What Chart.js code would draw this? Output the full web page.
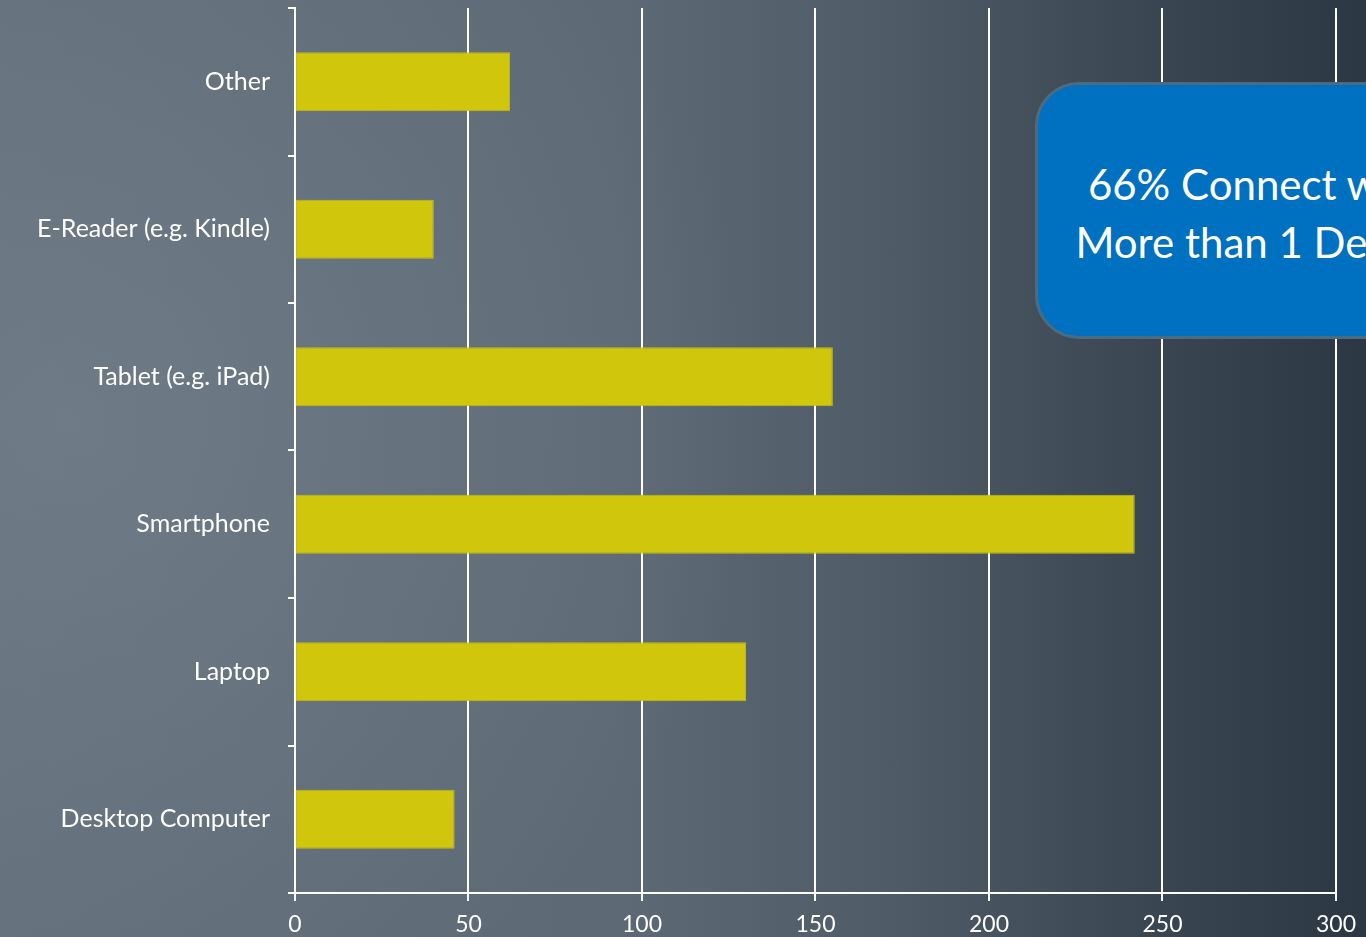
<!DOCTYPE html>
<html>
<head>
<meta charset="utf-8">
<script src="https://cdn.jsdelivr.net/npm/chart.js@4/dist/chart.umd.min.js"></script>
<style>
  html, body { margin: 0; padding: 0; width: 1366px; height: 937px; overflow: hidden; }
  body {
    background:
      radial-gradient(ellipse 700px 650px at 5% 45%, rgba(120,132,143,0.55) 0%, rgba(120,132,143,0) 100%),
      linear-gradient(to right, #63707b 0%, #5d6974 45%, #4f5b67 65%, #3d4855 82%, #2c3744 100%);
    position: relative;
    font-family: Lato, "DejaVu Sans", sans-serif;
  }
  #wrap { position: absolute; left: 0; top: 0; width: 1366px; height: 937px; }
  #callout {
    position: absolute; left: 1035px; top: 82px; width: 440px; height: 251px;
    background: #0070c0; border: 3px solid #4d6b80; border-radius: 44px;
    color: #fff; font-size: 42px; line-height: 58px; text-align: center;
    box-sizing: content-box;
  }
  #callout div { padding-top: 70px; }
</style>
</head>
<body>
<div id="wrap"><canvas id="bar" width="1366" height="937"></canvas></div>
<div id="callout"><div>66% Connect with<br>More than 1 Device</div></div>
<script>
var categories = ['Desktop Computer', 'Laptop', 'Smartphone', 'Tablet (e.g. iPad)', 'E-Reader (e.g. Kindle)', 'Other'];
var deviceCounts = [46, 130, 242, 155, 40, 62];
var xTicks = [0, 50, 100, 150, 200, 250, 300];

var BarData = {
  labels: categories,
  datasets: [{
    data: deviceCounts,
    backgroundColor: '#d0c70d',
    borderColor: '#c4bc12',
    borderWidth: 1,
    borderSkipped: false,
    categoryPercentage: 1,
    barPercentage: 0.4
  }]
};

var BarOptions = {
  indexAxis: 'y',
  responsive: false,
  animation: false,
  layout: { padding: { top: 8, right: 30, left: 0, bottom: 0 } },
  plugins: { legend: { display: false }, tooltip: { enabled: false } },
  scales: {
    x: {
      min: 0, max: 300,
      afterBuildTicks: function (s) { s.ticks = xTicks.map(function (v) { return { value: v }; }); },
      afterFit: function (s) { s.height = 44; },
      grid: { color: '#ffffff', lineWidth: 2, tickLength: 8, drawOnChartArea: true },
      border: { color: '#ffffff', width: 2 },
      ticks: { color: '#ffffff', font: { family: 'Lato', size: 23 }, padding: 10, maxRotation: 0 }
    },
    y: {
      reverse: true,
      // keep the plot top at 8px, the label padding would push it down
      afterFit: function (s) { s.width = 295; s.paddingTop = 0; s.paddingBottom = 0; },
      grid: { offset: true, color: '#ffffff', lineWidth: 2, tickLength: 7, drawOnChartArea: false },
      border: { color: '#ffffff', width: 2 },
      ticks: { color: '#ffffff', font: { family: 'Lato', size: 25 }, padding: 18 }
    }
  }
};

window.onload = function () {
  window.myBar = new Chart(document.getElementById('bar').getContext('2d'), {
    type: 'bar',
    data: BarData,
    options: BarOptions
  });
};
</script>
</body>
</html>
